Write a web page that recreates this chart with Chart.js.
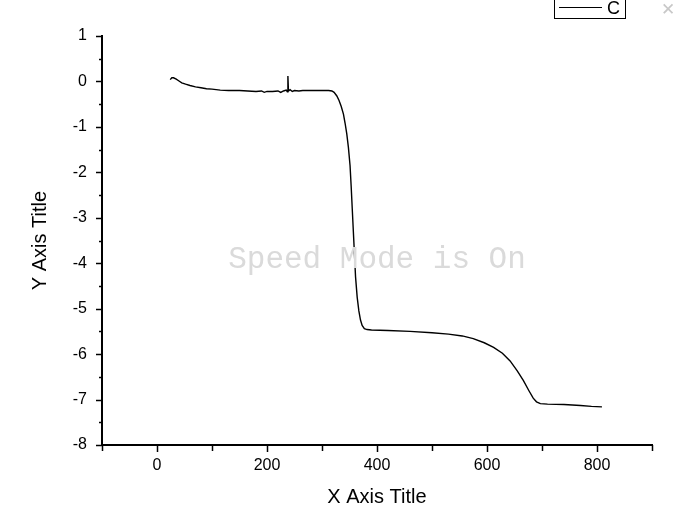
<!DOCTYPE html>
<html>
<head>
<meta charset="utf-8">
<script src="https://cdn.jsdelivr.net/npm/chart.js@4"></script>
<style>
  html, body { margin: 0; padding: 0; background: #fff; }
  canvas { display: block; }
</style>
</head>
<body>
<canvas id="chart" width="675" height="525"></canvas>
<script>
// Data
const xValues = [24, 27, 30, 35, 40, 45, 52, 60, 70, 80, 90, 100, 115, 130, 150, 165, 180, 190, 195, 200,
  210, 220, 225, 230, 235, 237, 238, 239, 242, 246, 250, 258, 265, 280, 295, 305, 312,
  318, 322, 327, 331, 335, 339, 342, 345, 348, 351, 353, 355, 357, 359, 361, 364, 367, 370, 373, 377, 382, 390,
  420, 460, 500, 530, 555, 575, 595, 612, 628, 642, 655, 666, 676, 684, 690, 697, 710, 740, 770, 790, 809];
const yValues = [0.04, 0.08, 0.08, 0.05, 0.01, -0.03, -0.06, -0.09, -0.12, -0.14, -0.16, -0.17, -0.19, -0.20, -0.20, -0.21, -0.22, -0.21, -0.24, -0.22,
  -0.22, -0.21, -0.24, -0.21, -0.19, -0.23, 0.12, -0.21, -0.18, -0.22, -0.20, -0.21, -0.20, -0.20, -0.20, -0.20, -0.20,
  -0.21, -0.24, -0.32, -0.42, -0.55, -0.72, -0.92, -1.15, -1.45, -1.85, -2.3, -2.8, -3.3, -3.8, -4.3, -4.75, -5.05, -5.25, -5.37, -5.44, -5.46, -5.47,
  -5.48, -5.50, -5.53, -5.56, -5.60, -5.66, -5.75, -5.85, -5.98, -6.15, -6.37, -6.58, -6.80, -6.97, -7.05, -7.09, -7.10, -7.11, -7.13, -7.15, -7.16];
const seriesName = 'C';
const xTitle = 'X Axis Title';
const yTitle = 'Y Axis Title';
const watermark = 'Speed Mode is On';

const points = xValues.map((x, i) => ({ x: x, y: yValues[i] }));
const FONT = '"Liberation Sans", Arial, sans-serif';

// Origin style outward ticks, legend box and watermark
const originDecor = {
  id: 'originDecor',
  afterDraw(chart) {
    const ctx = chart.ctx;
    const xs = chart.scales.x, ys = chart.scales.y;
    const area = chart.chartArea;
    ctx.save();
    ctx.strokeStyle = '#000';
    ctx.lineWidth = 1.5;
    // x ticks (major every 200, minor every 100)
    for (let v = -100; v <= 900; v += 100) {
      const px = Math.round(xs.getPixelForValue(v)) + 0.5;
      const len = v % 200 === 0 ? 7 : 6;
      ctx.beginPath();
      ctx.moveTo(px, area.bottom);
      ctx.lineTo(px, area.bottom + len);
      ctx.stroke();
    }
    // y ticks (major every 1, minor every 0.5)
    for (let v = -8; v <= 1; v += 0.5) {
      const py = Math.round(ys.getPixelForValue(v)) + 0.5;
      const len = Number.isInteger(v) ? 6 : 3;
      ctx.beginPath();
      ctx.moveTo(area.left, py);
      ctx.lineTo(area.left - len, py);
      ctx.stroke();
    }
    // watermark
    ctx.fillStyle = '#dadada';
    ctx.font = '31px "Liberation Mono", "DejaVu Sans Mono", monospace';
    ctx.textAlign = 'center';
    ctx.textBaseline = 'middle';
    ctx.fillText(watermark, 377, 260);
    // legend box
    ctx.lineWidth = 1;
    ctx.strokeRect(554.5, -1.5, 71, 20);
    ctx.beginPath();
    ctx.moveTo(559, 7.5);
    ctx.lineTo(602, 7.5);
    ctx.stroke();
    ctx.fillStyle = '#000';
    ctx.font = '18px ' + FONT;
    ctx.textAlign = 'left';
    ctx.fillText(seriesName, 607, 9);
    // close glyph
    ctx.fillStyle = '#c8c8c8';
    ctx.font = 'bold 17px "DejaVu Sans", sans-serif';
    ctx.textAlign = 'center';
    ctx.fillText('\u2715', 668, 11);
    ctx.restore();
  }
};

const ctx = document.getElementById('chart').getContext('2d');
new Chart(ctx, {
  type: 'line',
  data: {
    datasets: [{
      label: seriesName,
      data: points,
      borderColor: '#000',
      borderWidth: 1.4,
      pointRadius: 0,
      fill: false,
      tension: 0
    }]
  },
  options: {
    responsive: false,
    animation: false,
    layout: { padding: { top: 36, right: 23, left: 0, bottom: 0 } },
    plugins: { legend: { display: false }, tooltip: { enabled: false } },
    scales: {
      x: {
        type: 'linear',
        min: -100,
        max: 900,
        afterFit: (s) => { s.height = 80; },
        grid: { display: false, drawTicks: false },
        border: { display: true, color: '#000', width: 2 },
        ticks: {
          stepSize: 100,
          padding: 11,
          color: '#000',
          font: { family: FONT, size: 16 },
          callback: (v) => (v % 200 === 0 ? v : '')
        },
        title: {
          display: true,
          text: xTitle,
          color: '#000',
          font: { family: FONT, size: 20 },
          padding: { top: 0, bottom: 16 }
        }
      },
      y: {
        min: -8,
        max: 1,
        afterFit: (s) => { s.width = 102; },
        grid: { display: false, drawTicks: false },
        border: { display: true, color: '#000', width: 2 },
        ticks: {
          stepSize: 1,
          padding: 15,
          color: '#000',
          font: { family: FONT, size: 16 }
        },
        title: {
          display: true,
          text: yTitle,
          color: '#000',
          font: { family: FONT, size: 20 },
          padding: { top: 28, bottom: 0 }
        }
      }
    }
  },
  plugins: [originDecor]
});
</script>
</body>
</html>
